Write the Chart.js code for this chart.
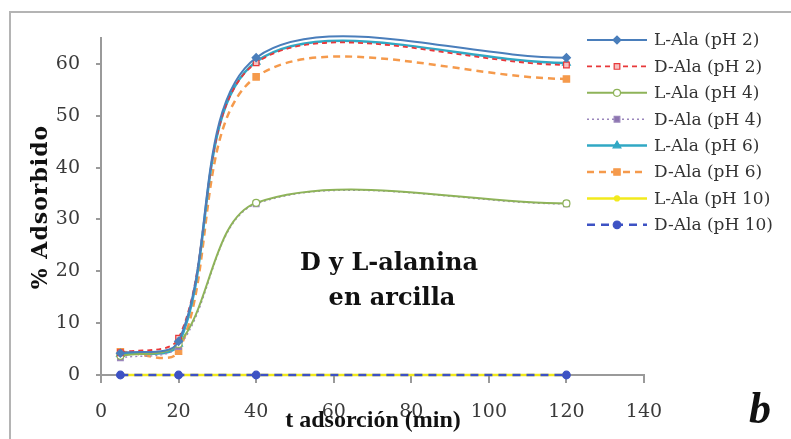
<!DOCTYPE html>
<html>
<head>
<meta charset="utf-8">
<script src="https://cdn.jsdelivr.net/npm/chart.js@4"></script>
<style>
  html, body { margin: 0; padding: 0; background: #fff; }
  #wrap { position: relative; width: 791px; height: 439px; }
</style>
</head>
<body>
<div id="wrap"><canvas id="chart" width="791" height="439"></canvas></div>
<script>
// data
const times = [5, 20, 40, 120];
const seriesNames = [
  'L-Ala (pH 2)', 'D-Ala (pH 2)', 'L-Ala (pH 4)', 'D-Ala (pH 4)',
  'L-Ala (pH 6)', 'D-Ala (pH 6)', 'L-Ala (pH 10)', 'D-Ala (pH 10)'
];
const lAlaPH2 = [4.2, 6.5, 61.2, 61.2];
const dAlaPH2 = [4.3, 7.1, 60.2, 59.8];
const lAlaPH4 = [3.7, 6.0, 33.2, 33.1];
const dAlaPH4 = [3.3, 5.5, 33.0, 33.0];
const lAlaPH6 = [4.0, 6.0, 60.4, 60.2];
const dAlaPH6 = [4.5, 4.6, 57.5, 57.1];
const lAlaPH10 = [0, 0, 0, 0];
const dAlaPH10 = [0, 0, 0, 0];
const yTicks = [0, 10, 20, 30, 40, 50, 60];
const xTicks = [0, 20, 40, 60, 80, 100, 120, 140];

const values = [lAlaPH2, dAlaPH2, lAlaPH4, dAlaPH4, lAlaPH6, dAlaPH6, lAlaPH10, dAlaPH10];

// look of each series
const styles = [
  { color: '#4a7ebb', fill: '#4a7ebb', dash: [], width: 2, point: 'rectRot', r: 4 },
  { color: '#e8383a', fill: '#f6c0c0', dash: [5, 4], width: 1.8, point: 'rect', r: 4 },
  { color: '#8eb359', fill: '#ffffff', dash: [], width: 2, point: 'circle', r: 3.5 },
  { color: '#9a86bb', fill: '#8d74b0', dash: [2, 3], width: 1.4, point: 'rect', r: 4 },
  { color: '#31a8c4', fill: '#31a8c4', dash: [], width: 2.5, point: 'triangle', r: 4.5 },
  { color: '#f59a4c', fill: '#f59a4c', dash: [7, 5], width: 2.5, point: 'rect', r: 4.5 },
  { color: '#f2ea1c', fill: '#f2ea1c', dash: [], width: 2.5, point: 'circle', r: 0 },
  { color: '#3d52c4', fill: '#3d52c4', dash: [8, 6], width: 2.5, point: 'circle', r: 3.8 }
];

const datasets = values.map((vals, i) => {
  const s = styles[i];
  return {
    label: seriesNames[i],
    data: vals.map((v, j) => ({ x: times[j], y: v })),
    borderColor: s.color,
    backgroundColor: s.fill,
    borderWidth: s.width,
    borderDash: s.dash,
    pointStyle: s.point,
    pointRadius: s.r,
    pointBackgroundColor: s.fill,
    pointBorderColor: s.color,
    pointBorderWidth: 1.2,
    tension: 0.33,
    clip: false,
    order: i === 7 ? -1 : 0
  };
});

const serif = 'DejaVu Serif';

const extras = {
  id: 'extras',
  beforeDraw(chart) {
    const ctx = chart.ctx;
    ctx.save();
    ctx.fillStyle = '#fff';
    ctx.fillRect(0, 0, chart.width, chart.height);
    // outer frame
    ctx.strokeStyle = '#b4b4b4';
    ctx.lineWidth = 2;
    ctx.beginPath();
    ctx.moveTo(10, 445);
    ctx.lineTo(10, 12);
    ctx.lineTo(800, 12);
    ctx.stroke();
    ctx.restore();
  },
  afterDraw(chart) {
    const ctx = chart.ctx;
    ctx.save();

    // legend
    ctx.font = '17px "DejaVu Serif"';
    ctx.textBaseline = 'middle';
    ctx.textAlign = 'left';
    seriesNames.forEach((name, i) => {
      const s = styles[i];
      const y = 40 + i * 26.4;
      ctx.strokeStyle = s.color;
      ctx.lineWidth = s.width;
      ctx.setLineDash(s.dash);
      ctx.beginPath();
      ctx.moveTo(587, y);
      ctx.lineTo(647, y);
      ctx.stroke();
      ctx.setLineDash([]);
      ctx.fillStyle = s.fill;
      ctx.lineWidth = 1.2;
      Chart.helpers.drawPoint(ctx, {
        pointStyle: s.point, radius: s.r || 2.5, rotation: 0, borderWidth: 1.2
      }, 617, y);
      ctx.fillStyle = '#333';
      ctx.fillText(name, 654, y + 1);
    });

    // axis titles
    ctx.fillStyle = '#111';
    ctx.textBaseline = 'alphabetic';
    ctx.font = 'bold 24px "Liberation Serif"';
    ctx.textAlign = 'center';
    ctx.fillText('t adsorción (min)', 373, 427);
    ctx.save();
    ctx.translate(47, 207);
    ctx.rotate(-Math.PI / 2);
    ctx.font = 'bold 22px "DejaVu Serif"';
    ctx.letterSpacing = '1px';
    ctx.fillText('% Adsorbido', 0, 0);
    ctx.restore();

    // note inside the plot
    ctx.font = 'bold 24px "DejaVu Serif"';
    ctx.fillText('D y L-alanina', 389, 270);
    ctx.fillText('en arcilla', 392, 305);

    // panel letter
    ctx.font = 'bold italic 44px "Liberation Serif"';
    ctx.fillText('b', 760, 423);
    ctx.restore();
  }
};

new Chart(document.getElementById('chart'), {
  type: 'line',
  data: { datasets },
  options: {
    responsive: false,
    animation: false,
    layout: { padding: { left: 0, top: 38, right: 147, bottom: 0 } },
    elements: { line: { capBezierPoints: false } },
    plugins: {
      legend: { display: false },
      tooltip: { enabled: false }
    },
    scales: {
      x: {
        type: 'linear',
        min: 0,
        max: 140,
        afterFit: s => { s.height = 64; },
        afterBuildTicks: s => { s.ticks = xTicks.map(v => ({ value: v })); },
        grid: { drawOnChartArea: false, color: '#9a9a9a', tickLength: 8, lineWidth: 2 },
        border: { color: '#9a9a9a', width: 2 },
        ticks: { color: '#3a3a3a', font: { family: serif, size: 19 }, padding: 18, maxRotation: 0 }
      },
      y: {
        min: 0,
        max: 65,
        afterFit: s => { s.width = 101; },
        afterBuildTicks: s => { s.ticks = yTicks.map(v => ({ value: v })); },
        grid: { drawOnChartArea: false, color: '#9a9a9a', tickLength: 5, lineWidth: 2 },
        border: { color: '#9a9a9a', width: 2 },
        ticks: { color: '#3a3a3a', font: { family: serif, size: 19 }, padding: 16 }
      }
    }
  },
  plugins: [extras]
});
</script>
</body>
</html>
